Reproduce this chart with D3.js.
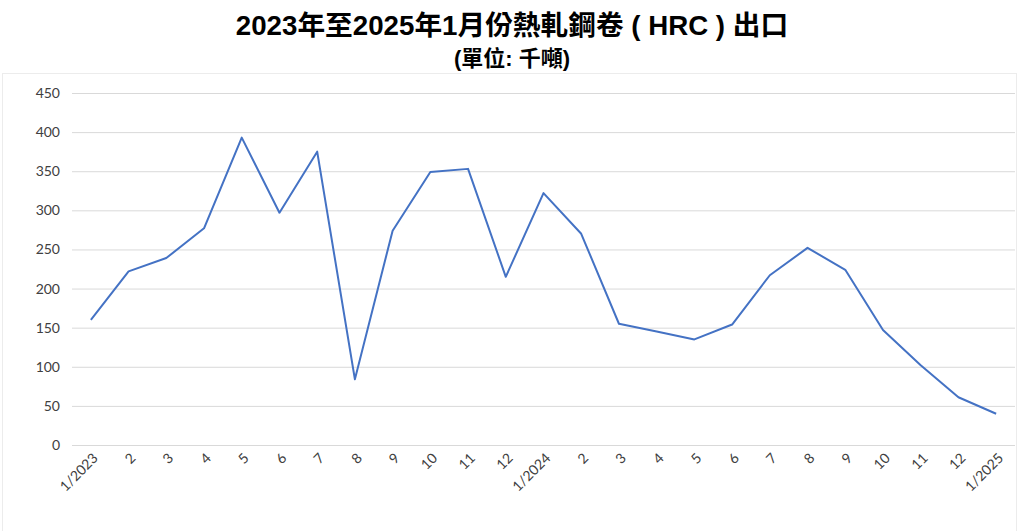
<!DOCTYPE html>
<html>
<head>
<meta charset="utf-8">
<script src="https://cdn.jsdelivr.net/npm/d3@7"></script>
<style>
  body { margin: 0; background: #fff; }
  svg { display: block; }
  .tick text { font-family: Lato, "Open Sans", sans-serif; fill: #404040; font-size: 14px; }
</style>
</head>
<body>
<svg id="chart" width="1024" height="531"></svg>
<script>
// monthly HRC exports, thousand tonnes
var months = ["1/2023", "2", "3", "4", "5", "6", "7", "8", "9", "10", "11", "12",
  "1/2024", "2", "3", "4", "5", "6", "7", "8", "9", "10", "11", "12", "1/2025"];
var exportsKt = [160, 222, 239, 277, 393, 297, 375, 84, 274, 349, 353, 215,
  322, 270, 155, 145, 135, 154, 217, 252, 224, 147, 102, 61, 40];
var yTicks = [0, 50, 100, 150, 200, 250, 300, 350, 400, 450];

var titleText = "2023年至2025年1月份熱軋鋼卷 ( HRC ) 出口";
var subTitleText = "(單位: 千噸)";

var svg = d3.select("#chart");
// note: "top" is taken by window.top, so prefix these
var plotLeft = 72, plotRight = 1015, plotTop = 93, plotBottom = 445;

// faint chart frame
svg.append("rect")
  .attr("x", 2.5).attr("y", 73.5)
  .attr("width", 1014).attr("height", 460)
  .attr("fill", "none")
  .attr("stroke", "#ececec");

svg.append("text")
  .attr("x", 512).attr("y", 35)
  .attr("text-anchor", "middle")
  .style("font-family", "'Liberation Sans', 'Noto Sans CJK TC', sans-serif")
  .style("font-weight", "bold")
  .style("font-size", "27.7px")
  .attr("fill", "#000")
  .text(titleText);

svg.append("text")
  .attr("x", 512).attr("y", 66)
  .attr("text-anchor", "middle")
  .style("font-family", "'Liberation Sans', 'Noto Sans CJK TC', sans-serif")
  .style("font-weight", "bold")
  .style("font-size", "22px")
  .attr("fill", "#000")
  .text(subTitleText);

// index-based band so repeated month labels stay distinct
var x = d3.scaleBand()
  .domain(d3.range(months.length))
  .range([plotLeft, plotRight]);

var y = d3.scaleLinear()
  .domain([0, 450])
  .range([plotBottom, plotTop]);

// gridlines + y labels
var yAxis = d3.axisLeft(y)
  .tickValues(yTicks)
  .tickSize(-(plotRight - plotLeft))
  .tickPadding(12);

var gy = svg.append("g")
  .attr("transform", "translate(" + plotLeft + ",0)")
  .call(yAxis);
gy.select(".domain").remove();
gy.selectAll(".tick line").attr("stroke", "#d9d9d9");
gy.selectAll(".tick text").attr("x", -12);

// x labels
var xAxis = d3.axisBottom(x)
  .tickSize(0)
  .tickFormat(function(i){ return months[i]; });

var gx = svg.append("g")
  .attr("transform", "translate(0," + plotBottom + ")")
  .call(xAxis);
gx.select(".domain").remove();
gx.selectAll(".tick text")
  .attr("text-anchor", "end")
  .attr("dy", null)
  .attr("y", 0)
  .attr("transform", "translate(8,14) rotate(-45)");

// the line
var line = d3.line()
  .x(function(d, i){ return x(i) + x.bandwidth() / 2; })
  .y(function(d){ return y(d); });

svg.append("path")
  .datum(exportsKt)
  .attr("fill", "none")
  .attr("stroke", "#4472c4")
  .attr("stroke-width", 2)
  .attr("stroke-linejoin", "round")
  .attr("d", line);
</script>
</body>
</html>
